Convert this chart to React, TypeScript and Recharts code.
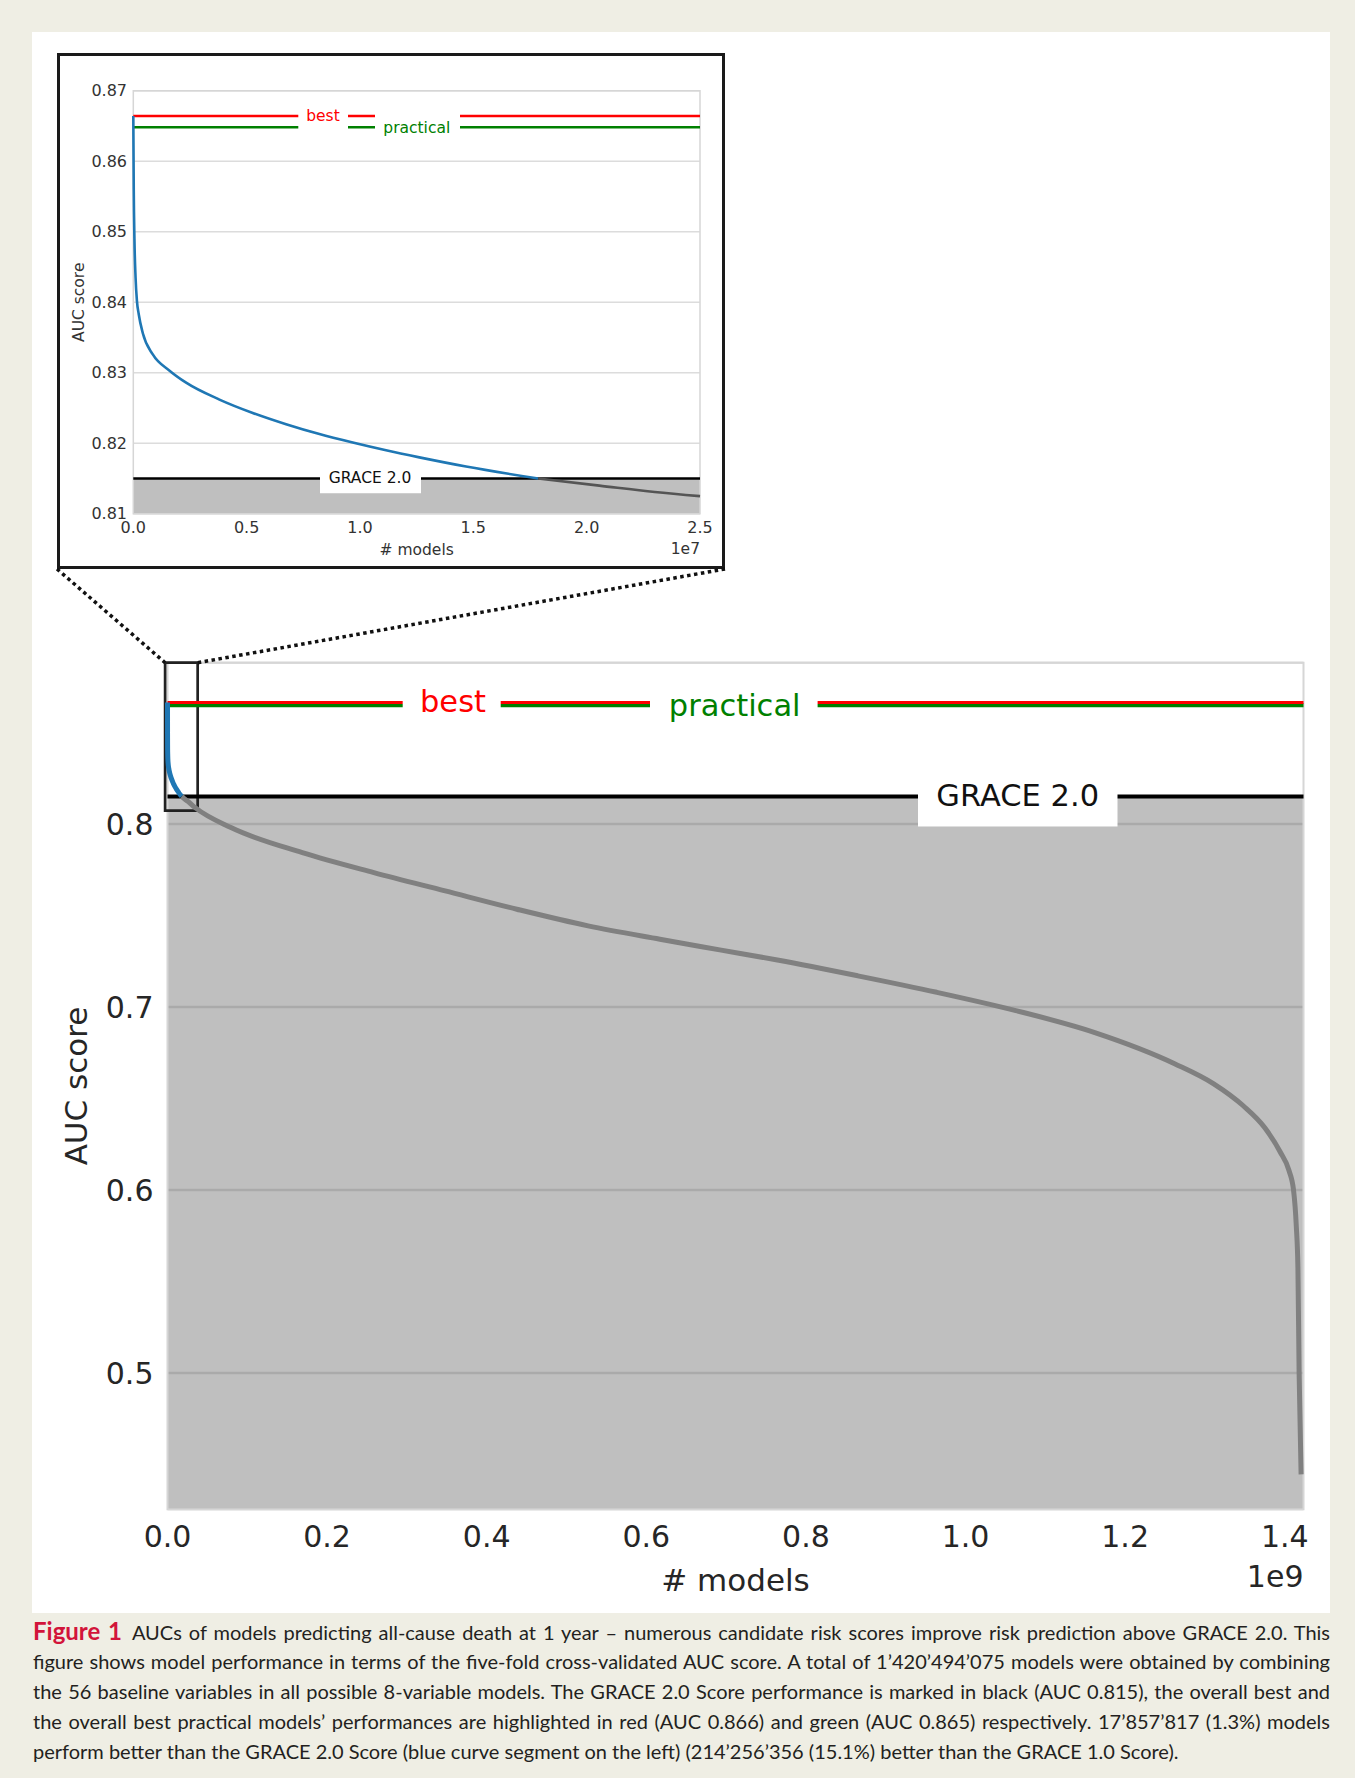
import React from "react";
import {
  LineChart,
  Line,
  XAxis,
  YAxis,
  CartesianGrid,
  ReferenceLine,
  ReferenceArea,
} from "recharts";

// head of the ranking (the zoomed inset), # models in units of 1e7
const headModels = [0, 0.002, 0.005, 0.01, 0.016, 0.024, 0.042, 0.086, 0.16, 0.233, 0.38, 0.527, 0.674, 0.821, 0.968, 1.115, 1.262, 1.468, 1.786, 2.056, 2.3, 2.5];
const headAuc = [0.8664, 0.856, 0.849, 0.8435, 0.8402, 0.8383, 0.8356, 0.8326, 0.8303, 0.8286, 0.8262, 0.8243, 0.8227, 0.8213, 0.8201, 0.819, 0.818, 0.8167, 0.815, 0.814, 0.8131, 0.8125];

// rest of the ranking, # models in units of 1e9
const tailModels = [0.0347, 0.0795, 0.169, 0.2586, 0.348, 0.4377, 0.527, 0.617, 0.692, 0.766, 0.865, 0.964, 1.063, 1.162, 1.262, 1.311, 1.348, 1.375, 1.394, 1.405, 1.411, 1.4145, 1.4165, 1.418, 1.4205];
const tailAuc = [0.8089, 0.798, 0.7843, 0.7734, 0.7634, 0.7534, 0.7443, 0.737, 0.7312, 0.7255, 0.717, 0.708, 0.698, 0.686, 0.669, 0.658, 0.646, 0.634, 0.621, 0.611, 0.6, 0.58, 0.5575, 0.5, 0.4446];

// reference levels
const graceAuc = 0.815;
const bestAuc = 0.8664;
const practicalAuc = 0.8648;

// ticks
const mainXTicks = [0, 0.2, 0.4, 0.6, 0.8, 1.0, 1.2, 1.4];
const mainYTicks = [0.5, 0.6, 0.7, 0.8];
const insetXTicks = [0, 0.5, 1.0, 1.5, 2.0, 2.5];
const insetYTicks = [0.81, 0.82, 0.83, 0.84, 0.85, 0.86, 0.87];

// axis ranges
const MAIN_X_MAX = 1.4235;
const MAIN_Y_MIN = 0.4255;
const MAIN_Y_MAX = 0.8881;
const INSET_X_MAX = 2.5;
const INSET_Y_MIN = 0.81;
const INSET_Y_MAX = 0.87;

// region of the main plot shown in the inset
const zoomBoxModels = [-0.003, 0.0378];
const zoomBoxAuc = [0.8073, MAIN_Y_MAX];

const FONT = "DejaVu Sans";
const CAPTION_FONT = "Lato, 'Open Sans', sans-serif";

// layout
const MAIN = { left: 32, top: 640, width: 1298, height: 972 };
const MAIN_MARGIN = { top: 22.7, right: 26.5, bottom: 10.7, left: 0 };
const MAIN_Y_W = 135.5;
const MAIN_X_H = 92;
const INSET = { left: 57, top: 53, width: 668, height: 516, border: 3 };
const INSET_MARGIN = { top: 34.7, right: 22, bottom: 2.2, left: 0 };
const INSET_Y_W = 73.3;
const INSET_X_H = 50;

const crossIdx = headAuc.findIndex((a) => a <= graceAuc);
const headPts = headModels.map((m, i) => ({ x: m, auc: headAuc[i] }));
const insetBlue = headPts.slice(0, crossIdx + 1);
const insetGray = headPts.slice(crossIdx);
const mainBlue = insetBlue.map((p) => ({ x: p.x / 100, auc: p.auc }));
const mainGray = [
  ...insetGray.map((p) => ({ x: p.x / 100, auc: p.auc })),
  ...tailModels.map((m, i) => ({ x: m, auc: tailAuc[i] })),
];

function MainBandLabels(props: any) {
  const { x, y } = props.viewBox;
  return (
    <g>
      <rect x={x + 235.2} y={y - 16} width={98} height={38} fill="#fff" />
      <text x={x + 285.5} y={y + 10} textAnchor="middle" fontSize={30.5} fontFamily={FONT} fill="#ff0000">best</text>
      <rect x={x + 482.5} y={y - 16} width={167.6} height={42} fill="#fff" />
      <text x={x + 567.2} y={y + 13.5} textAnchor="middle" fontSize={30.5} fontFamily={FONT} fill="#008000">practical</text>
    </g>
  );
}

function MainGraceLabel(props: any) {
  const { x, y } = props.viewBox;
  return (
    <g>
      <rect x={x + 750.5} y={y - 18.5} width={199.5} height={48.5} fill="#fff" />
      <text x={x + 850.2} y={y + 10} textAnchor="middle" fontSize={30.5} fontFamily={FONT} fill="#111">GRACE 2.0</text>
    </g>
  );
}

function InsetBandLabels(props: any) {
  const { x, y } = props.viewBox;
  return (
    <g>
      <rect x={x + 165} y={y - 9} width={49.7} height={31} fill="#fff" />
      <text x={x + 189.7} y={y + 5} textAnchor="middle" fontSize={15.5} fontFamily={FONT} fill="#ff0000">best</text>
      <rect x={x + 241.7} y={y - 9} width={85} height={31} fill="#fff" />
      <text x={x + 283.5} y={y + 17} textAnchor="middle" fontSize={15.5} fontFamily={FONT} fill="#008000">practical</text>
    </g>
  );
}

function InsetGraceLabel(props: any) {
  const { x, y } = props.viewBox;
  return (
    <g>
      <rect x={x + 186.7} y={y - 9.3} width={101} height={24} fill="#fff" />
      <text x={x + 236.7} y={y + 4.5} textAnchor="middle" fontSize={15.5} fontFamily={FONT} fill="#111">GRACE 2.0</text>
    </g>
  );
}

function MainXLabel(props: any) {
  const { x, y, width } = props.viewBox;
  return (
    <g fontFamily={FONT} fill="#262626">
      <text x={x + width / 2} y={y + 81.7} textAnchor="middle" fontSize={31}># models</text>
      <text x={x + width} y={y + 78} textAnchor="end" fontSize={30}>1e9</text>
    </g>
  );
}

function MainYLabel(props: any) {
  const { x, y, height } = props.viewBox;
  const cx = x + 55;
  const cy = y + height / 2;
  return (
    <text x={cx} y={cy} transform={`rotate(-90 ${cx} ${cy})`} textAnchor="middle" fontSize={31} fontFamily={FONT} fill="#262626">
      AUC score
    </text>
  );
}

function InsetXLabel(props: any) {
  const { x, y, width } = props.viewBox;
  return (
    <g fontFamily={FONT} fill="#333">
      <text x={x + width / 2} y={y + 41.2} textAnchor="middle" fontSize={15.5}># models</text>
      <text x={x + width} y={y + 40.2} textAnchor="end" fontSize={15.5}>1e7</text>
    </g>
  );
}

function InsetYLabel(props: any) {
  const { x, y, height } = props.viewBox;
  const cx = x + 24;
  const cy = y + height / 2;
  return (
    <text x={cx} y={cy} transform={`rotate(-90 ${cx} ${cy})`} textAnchor="middle" fontSize={15.5} fontFamily={FONT} fill="#333">
      AUC score
    </text>
  );
}

const captionLines = [
  "AUCs of models predicting all-cause death at 1 year \u2013 numerous candidate risk scores improve risk prediction above GRACE 2.0. This",
  "figure shows model performance in terms of the five-fold cross-validated AUC score. A total of 1\u2019420\u2019494\u2019075 models were obtained by combining",
  "the 56 baseline variables in all possible 8-variable models. The GRACE 2.0 Score performance is marked in black (AUC 0.815), the overall best and",
  "the overall best practical models\u2019 performances are highlighted in red (AUC 0.866) and green (AUC 0.865) respectively. 17\u2019857\u2019817 (1.3%) models",
  "perform better than the GRACE 2.0 Score (blue curve segment on the left) (214\u2019256\u2019356 (15.1%) better than the GRACE 1.0 Score).",
];

export default function App() {
  const mainPlotLeft = MAIN.left + MAIN_MARGIN.left + MAIN_Y_W;
  const mainPlotW = MAIN.width - MAIN_MARGIN.left - MAIN_MARGIN.right - MAIN_Y_W;
  const mainPlotTop = MAIN.top + MAIN_MARGIN.top;
  const boxLeft = mainPlotLeft + (zoomBoxModels[0] / MAIN_X_MAX) * mainPlotW;
  const boxRight = mainPlotLeft + (zoomBoxModels[1] / MAIN_X_MAX) * mainPlotW;
  const insetBottom = INSET.top + INSET.height;

  return (
    <div style={{ position: "absolute", left: 0, top: 0, width: 1355, height: 1778, background: "#efeee4", overflow: "hidden" }}>
      <div style={{ position: "absolute", left: 32, top: 32, width: 1298, height: 1581, background: "#fff" }} />

      {/* zoomed inset */}
      <div
        style={{
          position: "absolute",
          left: INSET.left,
          top: INSET.top,
          width: INSET.width,
          height: INSET.height,
          border: `${INSET.border}px solid #1a1a1a`,
          boxSizing: "border-box",
          background: "#fff",
        }}
      >
        <LineChart width={INSET.width - 2 * INSET.border} height={INSET.height - 2 * INSET.border} margin={INSET_MARGIN}>
          <CartesianGrid vertical={false} stroke="#dcdcdc" strokeWidth={1.5} />
          <XAxis
            type="number"
            dataKey="x"
            domain={[0, INSET_X_MAX]}
            ticks={insetXTicks}
            interval={0}
            tickFormatter={(v: number) => v.toFixed(1)}
            axisLine={false}
            tickLine={false}
            tickSize={0}
            tickMargin={8}
            height={INSET_X_H}
            tick={{ fontSize: 16, fill: "#333", fontFamily: FONT }}
            label={InsetXLabel}
          />
          <YAxis
            type="number"
            domain={[INSET_Y_MIN, INSET_Y_MAX]}
            ticks={insetYTicks}
            interval={0}
            tickFormatter={(v: number) => v.toFixed(2)}
            axisLine={false}
            tickLine={false}
            tickSize={0}
            tickMargin={6.3}
            width={INSET_Y_W}
            tick={{ fontSize: 16, fill: "#333", fontFamily: FONT }}
            label={InsetYLabel}
          />
          <ReferenceArea x1={0} x2={INSET_X_MAX} y1={INSET_Y_MIN} y2={graceAuc} fill="#000" fillOpacity={0.25} stroke="none" />
          <ReferenceArea x1={0} x2={INSET_X_MAX} y1={INSET_Y_MIN} y2={INSET_Y_MAX} fill="none" stroke="#d6d6d6" strokeWidth={1.5} />
          <ReferenceLine y={practicalAuc} stroke="#008000" strokeWidth={2.5} />
          <ReferenceLine y={bestAuc} stroke="#ff0000" strokeWidth={2.5} label={InsetBandLabels} />
          <ReferenceLine y={graceAuc} stroke="#000" strokeWidth={2.6} label={InsetGraceLabel} />
          <Line type="monotone" data={insetBlue} dataKey="auc" stroke="#1f77b4" strokeWidth={2.6} dot={false} isAnimationActive={false} />
          <Line type="monotone" data={insetGray} dataKey="auc" stroke="#555" strokeWidth={2.6} dot={false} isAnimationActive={false} />
        </LineChart>
      </div>

      {/* full ranking */}
      <div style={{ position: "absolute", left: MAIN.left, top: MAIN.top }}>
        <LineChart width={MAIN.width} height={MAIN.height} margin={MAIN_MARGIN}>
          <CartesianGrid vertical={false} stroke="#e3e3e3" strokeWidth={2.5} />
          <XAxis
            type="number"
            dataKey="x"
            domain={[0, MAIN_X_MAX]}
            ticks={mainXTicks}
            interval={0}
            tickFormatter={(v: number) => v.toFixed(1)}
            axisLine={false}
            tickLine={false}
            tickSize={0}
            tickMargin={16}
            height={MAIN_X_H}
            tick={{ fontSize: 30, fill: "#262626", fontFamily: FONT }}
            label={MainXLabel}
          />
          <YAxis
            type="number"
            domain={[MAIN_Y_MIN, MAIN_Y_MAX]}
            ticks={mainYTicks}
            interval={0}
            tickFormatter={(v: number) => v.toFixed(1)}
            axisLine={false}
            tickLine={false}
            tickSize={0}
            tickMargin={14}
            width={MAIN_Y_W}
            tick={{ fontSize: 30, fill: "#262626", fontFamily: FONT }}
            label={MainYLabel}
          />
          <ReferenceArea x1={0} x2={MAIN_X_MAX} y1={MAIN_Y_MIN} y2={graceAuc} fill="#000" fillOpacity={0.25} stroke="none" />
          <ReferenceArea x1={0} x2={MAIN_X_MAX} y1={MAIN_Y_MIN} y2={MAIN_Y_MAX} fill="none" stroke="#d6d6d6" strokeWidth={2} />
          <ReferenceLine y={practicalAuc} stroke="#008000" strokeWidth={4} />
          <ReferenceLine y={bestAuc} stroke="#ff0000" strokeWidth={3} label={MainBandLabels} />
          <ReferenceLine y={graceAuc} stroke="#000" strokeWidth={4} label={MainGraceLabel} />
          <Line type="monotone" data={mainBlue} dataKey="auc" stroke="#1f77b4" strokeWidth={5} dot={false} isAnimationActive={false} />
          <Line type="monotone" data={mainGray} dataKey="auc" stroke="#808080" strokeWidth={5} dot={false} isAnimationActive={false} />
          <ReferenceArea
            x1={zoomBoxModels[0]}
            x2={zoomBoxModels[1]}
            y1={zoomBoxAuc[0]}
            y2={zoomBoxAuc[1]}
            ifOverflow="visible"
            fill="none"
            stroke="#222"
            strokeWidth={2.7}
          />
        </LineChart>
      </div>

      {/* dotted connectors from the inset to the zoom box */}
      <svg style={{ position: "absolute", left: 0, top: 0, pointerEvents: "none" }} width={1355} height={1778}>
        <line x1={INSET.left} y1={insetBottom} x2={boxLeft} y2={mainPlotTop} stroke="#111" strokeWidth={3.5} strokeDasharray="3.5 3.5" />
        <line x1={INSET.left + INSET.width} y1={insetBottom} x2={boxRight} y2={mainPlotTop} stroke="#111" strokeWidth={3.5} strokeDasharray="3.5 3.5" />
      </svg>

      {/* caption */}
      <div style={{ position: "absolute", left: 33, top: 1616, width: 1297, fontFamily: CAPTION_FONT, fontSize: 20, color: "#231f20" }}>
        {captionLines.map((ln, i) => (
          <div
            key={i}
            style={{
              height: 30,
              lineHeight: "30px",
              whiteSpace: "nowrap",
              textAlign: "justify",
              textAlignLast: i < captionLines.length - 1 ? "justify" : "left",
            }}
          >
            {i === 0 && (
              <span style={{ color: "#d2143a", fontWeight: 700, fontSize: 24, lineHeight: "30px", marginRight: 10 }}>Figure 1</span>
            )}
            {ln}
          </div>
        ))}
      </div>
    </div>
  );
}
